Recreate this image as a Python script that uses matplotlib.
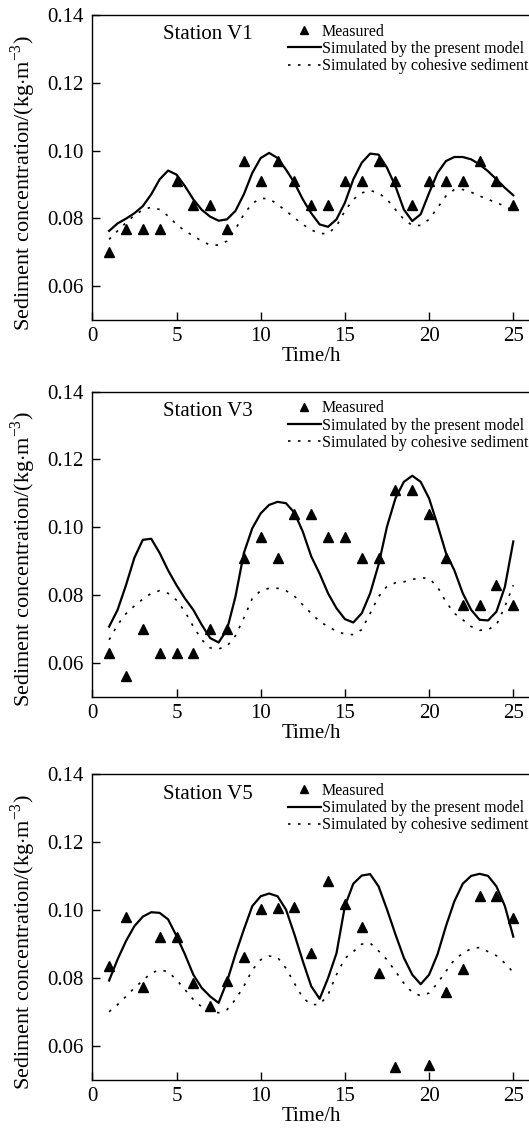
import numpy as np
import matplotlib
matplotlib.use("Agg")
import matplotlib.pyplot as plt

plt.rcParams['font.family'] = ['Liberation Serif', 'DejaVu Serif']
plt.rcParams['mathtext.fontset'] = 'custom'
plt.rcParams['mathtext.rm'] = 'Liberation Serif'

# Measurement hours and model output times (h)
hours = np.arange(1, 26)
t_model = np.arange(1, 25.5, 0.5)

stations = ["Station V1", "Station V3", "Station V5"]

# Measured concentrations (kg/m3)
measured_v1 = [0.070, 0.077, 0.077, 0.077, 0.091, 0.084, 0.084, 0.077, 0.097, 0.091,
               0.097, 0.091, 0.084, 0.084, 0.091, 0.091, 0.097, 0.091, 0.084, 0.091,
               0.091, 0.091, 0.097, 0.091, 0.084]
measured_v3 = [0.063, 0.056, 0.070, 0.063, 0.063, 0.063, 0.070, 0.070, 0.091, 0.097,
               0.091, 0.104, 0.104, 0.097, 0.097, 0.091, 0.091, 0.111, 0.111, 0.104,
               0.091, 0.077, 0.077, 0.083, 0.077]
measured_v5 = [0.0835, 0.098, 0.0775, 0.092, 0.092, 0.0785, 0.0717, 0.079, 0.0861, 0.1004,
               0.1007, 0.101, 0.0875, 0.1085, 0.1019, 0.0951, 0.0815, 0.0539, np.nan, 0.0544,
               0.0758, 0.0827, 0.1041, 0.1043, 0.0976]

# Present model
present_v1 = [0.0763, 0.0785, 0.0799, 0.0815, 0.0836, 0.0871, 0.0915, 0.0941, 0.0929, 0.0895,
              0.0856, 0.0825, 0.0805, 0.0793, 0.0797, 0.0822, 0.0871, 0.0934, 0.0978, 0.0993,
              0.0978, 0.0944, 0.0905, 0.0856, 0.0815, 0.0782, 0.0775, 0.0797, 0.0846, 0.0915,
              0.0964, 0.0991, 0.0988, 0.0949, 0.0895, 0.0826, 0.0792, 0.0812, 0.0875, 0.0934,
              0.0969, 0.0981, 0.0981, 0.0974, 0.0959, 0.0939, 0.0915, 0.0890, 0.0868]
present_v3 = [0.0707, 0.0756, 0.0829, 0.0910, 0.0963, 0.0966, 0.0924, 0.0873, 0.0829, 0.0790,
              0.0756, 0.0712, 0.0673, 0.0660, 0.0698, 0.0795, 0.0924, 0.0997, 0.1041, 0.1066,
              0.1075, 0.1071, 0.1043, 0.0987, 0.0914, 0.0863, 0.0805, 0.0761, 0.0729, 0.0719,
              0.0746, 0.0805, 0.0890, 0.1002, 0.1085, 0.1134, 0.1152, 0.1134, 0.1085, 0.1007,
              0.0924, 0.0873, 0.0805, 0.0756, 0.0727, 0.0725, 0.0751, 0.0824, 0.0958]
present_v5 = [0.0793, 0.0855, 0.0909, 0.0953, 0.0981, 0.0994, 0.0992, 0.0973, 0.0924, 0.0870,
              0.0810, 0.0771, 0.0746, 0.0727, 0.0790, 0.0870, 0.0943, 0.1012, 0.1041, 0.1049,
              0.1041, 0.1002, 0.0929, 0.0850, 0.0776, 0.0739, 0.0800, 0.0873, 0.1012, 0.1078,
              0.1102, 0.1106, 0.1070, 0.1002, 0.0929, 0.0860, 0.0810, 0.0782, 0.0810, 0.0870,
              0.0953, 0.1026, 0.1078, 0.1101, 0.1107, 0.1101, 0.1070, 0.1012, 0.0922]

# Cohesive sediment model
cohesive_v1 = [0.0738, 0.0763, 0.0787, 0.0809, 0.0825, 0.0833, 0.0826, 0.0807, 0.0782, 0.0763,
               0.0748, 0.0733, 0.0721, 0.0721, 0.0733, 0.0768, 0.0812, 0.0844, 0.0859, 0.0858,
               0.0841, 0.0822, 0.0802, 0.0782, 0.0766, 0.0755, 0.0755, 0.0777, 0.0822, 0.0856,
               0.0875, 0.0882, 0.0875, 0.0856, 0.0826, 0.0797, 0.0779, 0.0779, 0.0797, 0.0831,
               0.0866, 0.0885, 0.0885, 0.0877, 0.0866, 0.0856, 0.0846, 0.0836, 0.0822]
cohesive_v3 = [0.0668, 0.0712, 0.0745, 0.0768, 0.0788, 0.0805, 0.0813, 0.0805, 0.0785, 0.0751,
               0.0707, 0.0668, 0.0644, 0.0641, 0.0649, 0.0680, 0.0732, 0.0790, 0.0813, 0.0820,
               0.0820, 0.0813, 0.0797, 0.0771, 0.0746, 0.0722, 0.0707, 0.0693, 0.0685, 0.0683,
               0.0698, 0.0746, 0.0795, 0.0826, 0.0836, 0.0839, 0.0846, 0.0851, 0.0849, 0.0824,
               0.0780, 0.0746, 0.0727, 0.0707, 0.0696, 0.0698, 0.0712, 0.0766, 0.0829]
cohesive_v5 = [0.0701, 0.0722, 0.0746, 0.0771, 0.0793, 0.0815, 0.0824, 0.0819, 0.0795, 0.0766,
               0.0737, 0.0715, 0.0703, 0.0698, 0.0707, 0.0737, 0.0776, 0.0824, 0.0854, 0.0865,
               0.0861, 0.0829, 0.0785, 0.0742, 0.0722, 0.0722, 0.0751, 0.0810, 0.0858, 0.0878,
               0.0900, 0.0903, 0.0880, 0.0854, 0.0820, 0.0785, 0.0758, 0.0748, 0.0756, 0.0785,
               0.0820, 0.0854, 0.0873, 0.0887, 0.0890, 0.0878, 0.0866, 0.0844, 0.0817]

x_ticks = [0, 5, 10, 15, 20, 25]
y_ticks = [0.06, 0.08, 0.10, 0.12, 0.14]

W, H = 529, 1132
fig = plt.figure(figsize=(W / 100, H / 100), dpi=100)

panels = [
    (measured_v1, present_v1, cohesive_v1, 15, 320),
    (measured_v3, present_v3, cohesive_v3, 391.7, 696.7),
    (measured_v5, present_v5, cohesive_v5, 774.3, 1080),
]

left_px = 92.3
px_per_h = 16.84
xmax = 26.0
ax_w_px = xmax * px_per_h

for name, (meas, pres, coh, top_px, bot_px) in zip(stations, panels):
    ax = fig.add_axes([left_px / W, 1 - bot_px / H,
                       ax_w_px / W, (bot_px - top_px) / H])
    ax.plot(hours, meas, linestyle='none', marker='^', color='black',
            markersize=6.5, label='Measured', clip_on=False)
    ax.plot(t_model, pres, color='black', linewidth=1.6,
            solid_joinstyle='round', label='Simulated by the present model')
    ax.plot(t_model, coh, color='black', linewidth=1.2,
            linestyle=(0, (1.5, 4.5)), label='Simulated by cohesive sediment')

    ax.set_xlim(0, xmax)
    ax.set_ylim(0.05, 0.14)
    ax.set_xticks(x_ticks)
    ax.set_yticks(y_ticks)
    ax.set_yticklabels([f"{v:.2f}" for v in y_ticks])
    ax.tick_params(direction='in', length=6, width=1.0, labelsize=15,
                   top=False, right=False)
    ax.tick_params(axis='y', pad=6)
    ax.tick_params(axis='x', pad=5)
    ax.spines['right'].set_visible(False)
    for s in ('left', 'bottom', 'top'):
        ax.spines[s].set_linewidth(1.0)

    ax.set_xlabel('Time/h', fontsize=15, labelpad=1)
    ax.set_ylabel(r'Sediment concentration/(kg$\cdot$m$^{-3}$)', fontsize=16,
                  va='center')
    ax.yaxis.set_label_coords((23 - left_px) / ax_w_px, 0.45)

    ax.text(0.1615, 0.935, name, transform=ax.transAxes, fontsize=15,
            ha='left', va='center')
    ax.legend(loc='upper left', bbox_to_anchor=(0.446, 0.972), frameon=False,
              fontsize=11.5, handlelength=2.1, handletextpad=0.05,
              labelspacing=0.08, borderpad=0, borderaxespad=0, numpoints=1,
              markerscale=0.8)

fig.savefig('out.png', dpi=100)
